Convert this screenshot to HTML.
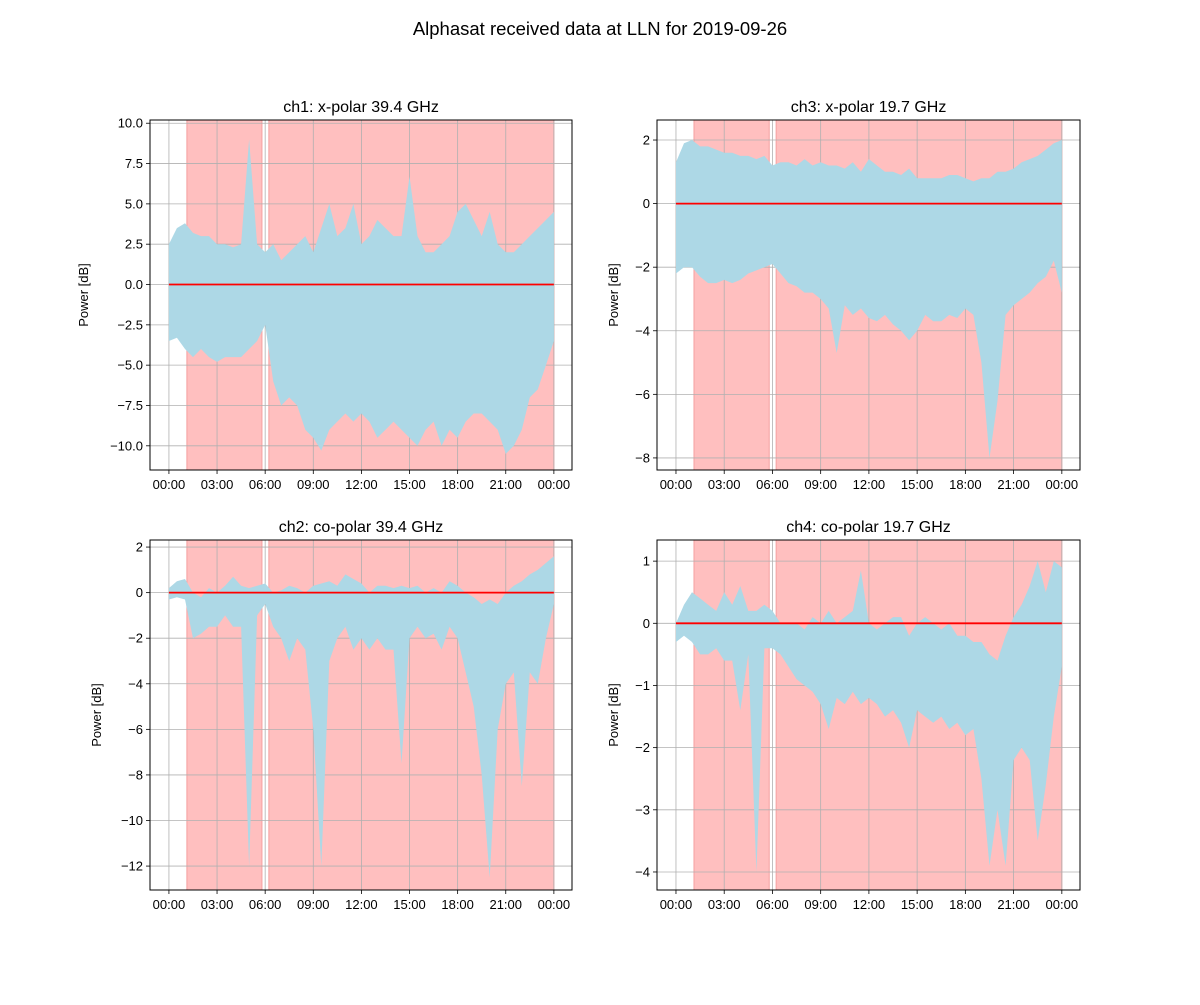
<!DOCTYPE html>
<html><head><meta charset="utf-8">
<style>
body{margin:0;background:#fff;}
svg text{font-family:"Liberation Sans","DejaVu Sans",sans-serif;}
</style></head>
<body>
<svg id="fig" width="1200" height="1000" viewBox="0 0 1200 1000" xmlns="http://www.w3.org/2000/svg">
<rect width="1200" height="1000" fill="#fff"/>
<text x="600" y="35" font-size="18.5" text-anchor="middle">Alphasat received data at LLN for 2019-09-26</text>
</svg>
<script>
const hours = [0,0.5,1,1.5,2,2.5,3,3.5,4,4.5,5,5.5,6,6.5,7,7.5,8,8.5,9,9.5,10,10.5,11,11.5,12,12.5,13,13.5,14,14.5,15,15.5,16,16.5,17,17.5,18,18.5,19,19.5,20,20.5,21,21.5,22,22.5,23,23.5,24];
const ch1Upper = [2.5,3.5,3.8,3.2,3.0,3.0,2.5,2.5,2.3,2.5,9.0,2.5,2.0,2.5,1.5,2.0,2.5,3.0,2.0,3.5,5.0,3.0,3.5,5.0,2.5,3.0,4.0,3.5,3.0,3.0,6.7,3.0,2.0,2.0,2.5,3.0,4.5,5.0,4.0,3.0,4.5,2.5,2.0,2.0,2.5,3.0,3.5,4.0,4.5];
const ch1Lower = [-3.5,-3.3,-4.0,-4.5,-4.0,-4.5,-4.8,-4.5,-4.5,-4.5,-4.0,-3.5,-2.5,-6.0,-7.5,-7.0,-7.5,-9.0,-9.5,-10.3,-9.0,-8.5,-8.0,-8.5,-8.0,-8.5,-9.5,-9.0,-8.5,-9.0,-9.5,-10.0,-9.0,-8.5,-10.0,-9.0,-9.5,-8.5,-8.0,-8.0,-8.5,-9.0,-10.5,-10.0,-9.0,-7.0,-6.5,-5.0,-3.5];
const ch3Upper = [1.3,1.9,2.0,1.8,1.8,1.7,1.6,1.6,1.5,1.5,1.4,1.5,1.2,1.3,1.3,1.2,1.4,1.2,1.3,1.2,1.2,1.1,1.3,1.0,1.4,1.2,1.0,1.0,0.9,1.1,0.8,0.8,0.8,0.8,0.9,0.9,0.8,0.7,0.8,0.8,1.0,1.0,1.1,1.3,1.4,1.5,1.7,1.9,2.0];
const ch3Lower = [-2.2,-2.0,-2.0,-2.3,-2.5,-2.5,-2.4,-2.5,-2.4,-2.2,-2.1,-2.0,-1.9,-2.2,-2.5,-2.6,-2.8,-2.8,-3.0,-3.3,-4.7,-3.2,-3.5,-3.3,-3.6,-3.7,-3.5,-3.8,-4.0,-4.3,-4.0,-3.5,-3.7,-3.7,-3.5,-3.6,-3.3,-3.5,-5.0,-8.0,-6.2,-3.5,-3.2,-3.0,-2.8,-2.5,-2.3,-1.8,-2.8];
const ch2Upper = [0.2,0.5,0.6,0.0,-0.2,0.2,0.0,0.3,0.7,0.3,0.2,0.3,0.4,0.0,0.1,0.3,0.2,0.0,0.3,0.4,0.5,0.3,0.8,0.6,0.4,0.0,0.3,0.3,0.2,0.3,0.2,0.3,0.0,0.2,0.0,0.5,0.3,0.0,-0.2,-0.5,-0.3,-0.5,0.0,0.3,0.5,0.8,1.0,1.3,1.6];
const ch2Lower = [-0.3,-0.2,-0.3,-2.0,-1.8,-1.5,-1.5,-1.0,-1.5,-1.5,-12.0,-1.0,-0.5,-1.5,-2.0,-3.0,-2.0,-2.5,-6.0,-12.0,-3.0,-2.0,-1.5,-2.5,-2.0,-2.5,-2.0,-2.5,-2.5,-7.5,-2.0,-1.5,-2.0,-1.8,-2.5,-1.5,-2.0,-3.5,-5.0,-8.0,-12.5,-6.0,-4.0,-3.5,-8.5,-3.5,-4.0,-2.0,-0.5];
const ch4Upper = [0.0,0.3,0.5,0.4,0.3,0.2,0.5,0.3,0.6,0.2,0.2,0.3,0.2,0.0,0.0,0.0,-0.1,0.1,0.0,0.2,0.0,0.1,0.2,0.85,0.0,-0.1,0.0,0.1,0.1,-0.2,0.0,0.1,0.0,-0.1,0.0,-0.2,-0.2,-0.3,-0.3,-0.5,-0.6,-0.2,0.1,0.3,0.6,1.0,0.5,1.0,0.9];
const ch4Lower = [-0.3,-0.2,-0.3,-0.5,-0.5,-0.4,-0.6,-0.6,-1.4,-0.5,-4.0,-0.4,-0.4,-0.5,-0.7,-0.9,-1.0,-1.1,-1.3,-1.7,-1.2,-1.3,-1.1,-1.3,-1.2,-1.3,-1.5,-1.4,-1.6,-2.0,-1.4,-1.5,-1.6,-1.5,-1.7,-1.6,-1.8,-1.7,-2.5,-3.9,-3.0,-3.9,-2.2,-2.0,-2.2,-3.5,-2.6,-1.5,-0.7];
const shadedSpans = [[1.12,5.8],[6.23,24]];
const xTickHours = [0,3,6,9,12,15,18,21,24];
const xTickLabels = ["00:00","03:00","06:00","09:00","12:00","15:00","18:00","21:00","00:00"];
const ch1Ticks = [-10,-7.5,-5,-2.5,0,2.5,5,7.5,10];
const ch3Ticks = [-8,-6,-4,-2,0,2];
const ch2Ticks = [-12,-10,-8,-6,-4,-2,0,2];
const ch4Ticks = [-4,-3,-2,-1,0,1];

const NS="http://www.w3.org/2000/svg";
const fig=document.getElementById('fig');
function mk(tag,attrs,parent){const e=document.createElementNS(NS,tag);for(const k in attrs)e.setAttribute(k,attrs[k]);(parent||fig).appendChild(e);return e;}
function fmt(v,dec){let s=Math.abs(v).toFixed(dec);return (v<0?"\u2212":"")+s;}

const panels=[
 {name:'ch1',title:'ch1: x-polar 39.4 GHz',x0:150,x1:572,y0:120,y1:470,ymin:-11.5,ymax:10.2,up:ch1Upper,lo:ch1Lower,ticks:ch1Ticks,dec:1,ylx:88},
 {name:'ch3',title:'ch3: x-polar 19.7 GHz',x0:657,x1:1080,y0:120,y1:470,ymin:-8.38,ymax:2.63,up:ch3Upper,lo:ch3Lower,ticks:ch3Ticks,dec:0,ylx:618},
 {name:'ch2',title:'ch2: co-polar 39.4 GHz',x0:150,x1:572,y0:540,y1:890,ymin:-13.05,ymax:2.31,up:ch2Upper,lo:ch2Lower,ticks:ch2Ticks,dec:0,ylx:101},
 {name:'ch4',title:'ch4: co-polar 19.7 GHz',x0:657,x1:1080,y0:540,y1:890,ymin:-4.29,ymax:1.34,up:ch4Upper,lo:ch4Lower,ticks:ch4Ticks,dec:0,ylx:618}
];
panels.forEach(p=>{
 const xmin=-1.18,xmax=25.13;
 const X=h=>p.x0+(h-xmin)/(xmax-xmin)*(p.x1-p.x0);
 const Y=v=>p.y1-(v-p.ymin)/(p.ymax-p.ymin)*(p.y1-p.y0);
 const g=mk('g',{});
 
 
 shadedSpans.forEach((s,i)=>{
  const r=mk('rect',{x:X(s[0]),y:p.y0,width:X(s[1])-X(s[0]),height:p.y1-p.y0,fill:'#ffbfbf',stroke:'#f5a0a0','stroke-width':1},g);
  
  
 });
 xTickHours.forEach(h=>{mk('line',{x1:X(h),x2:X(h),y1:p.y0,y2:p.y1,stroke:'#b0b0b0','stroke-width':0.8},g);});
 p.ticks.forEach(v=>{mk('line',{x1:p.x0,x2:p.x1,y1:Y(v),y2:Y(v),stroke:'#b0b0b0','stroke-width':0.8},g);});
 let d='';
 hours.forEach((h,i)=>{d+=(i?'L':'M')+X(h).toFixed(1)+','+Y(p.up[i]).toFixed(1);});
 for(let i=hours.length-1;i>=0;i--){d+='L'+X(hours[i]).toFixed(1)+','+Y(p.lo[i]).toFixed(1);}
 const band=mk('path',{d:d+'Z',fill:'#add8e6'},g);
 
 
 const zl=mk('line',{x1:X(0),x2:X(24),y1:Y(0),y2:Y(0),stroke:'red','stroke-width':1.8},g);
 
 
 const fr=mk('rect',{x:p.x0,y:p.y0,width:p.x1-p.x0,height:p.y1-p.y0,fill:'none',stroke:'#000','stroke-width':1},g);
 
 
 xTickHours.forEach((h,i)=>{
  mk('line',{x1:X(h),x2:X(h),y1:p.y1,y2:p.y1+4,stroke:'#000','stroke-width':0.8},g);
  const t=mk('text',{x:X(h),y:p.y1+19,'font-size':13,'text-anchor':'middle'},g);
  t.textContent=xTickLabels[i];
  
  
 });
 p.ticks.forEach(v=>{
  mk('line',{x1:p.x0-4,x2:p.x0,y1:Y(v),y2:Y(v),stroke:'#000','stroke-width':0.8},g);
  const t=mk('text',{x:p.x0-7,y:Y(v)+4.5,'font-size':13,'text-anchor':'end'},g);
  t.textContent=fmt(v,p.dec);
  
  
 });
 const tt=mk('text',{x:(p.x0+p.x1)/2,y:p.y0-8,'font-size':16,'text-anchor':'middle'},g);
 tt.textContent=p.title;
 
 
 const cy=(p.y0+p.y1)/2;
 const yl=mk('text',{x:p.ylx,y:cy,'font-size':13,'text-anchor':'middle',transform:'rotate(-90 '+p.ylx+' '+cy+')'},g);
 yl.textContent='Power [dB]';
 
 
});
</script>
</body></html>
